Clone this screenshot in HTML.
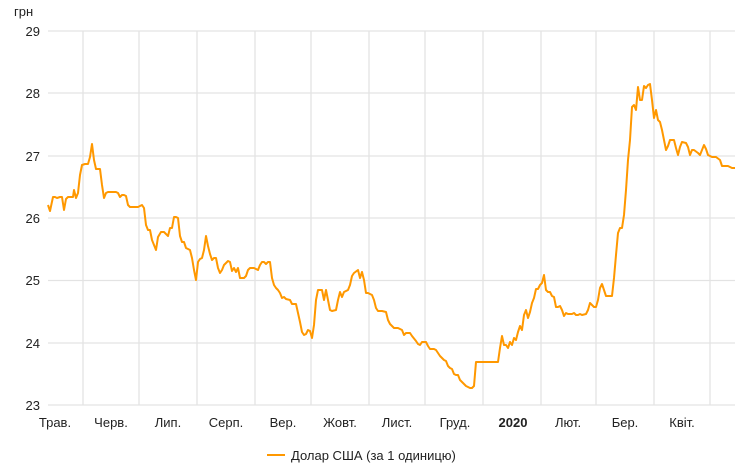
<!DOCTYPE html>
<html><head><meta charset="utf-8"><style>
body{margin:0;background:#fff;}
svg{display:block;font-family:"Liberation Sans",sans-serif;}
</style></head><body>
<svg width="740" height="467" viewBox="0 0 740 467">
<g stroke="#e3e3e3" stroke-width="1.3">
<line x1="48" y1="31" x2="735" y2="31"/>
<line x1="48" y1="93" x2="735" y2="93"/>
<line x1="48" y1="156" x2="735" y2="156"/>
<line x1="48" y1="218" x2="735" y2="218"/>
<line x1="48" y1="280.5" x2="735" y2="280.5"/>
<line x1="48" y1="343" x2="735" y2="343"/>
<line x1="48" y1="405" x2="735" y2="405"/>
<line x1="83" y1="31" x2="83" y2="405"/>
<line x1="139" y1="31" x2="139" y2="405"/>
<line x1="197" y1="31" x2="197" y2="405"/>
<line x1="255" y1="31" x2="255" y2="405"/>
<line x1="311" y1="31" x2="311" y2="405"/>
<line x1="369" y1="31" x2="369" y2="405"/>
<line x1="425" y1="31" x2="425" y2="405"/>
<line x1="483" y1="31" x2="483" y2="405"/>
<line x1="541" y1="31" x2="541" y2="405"/>
<line x1="596" y1="31" x2="596" y2="405"/>
<line x1="654" y1="31" x2="654" y2="405"/>
<line x1="710" y1="31" x2="710" y2="405"/>
</g>
<g fill="#222" font-size="13">
<text x="14" y="16">грн</text>
<g text-anchor="end">
<text x="40" y="36">29</text><text x="40" y="98">28</text><text x="40" y="161">27</text>
<text x="40" y="223">26</text><text x="40" y="285">25</text><text x="40" y="348">24</text><text x="40" y="410">23</text>
</g>
<g text-anchor="middle">
<text x="55" y="427">Трав.</text><text x="111" y="427">Черв.</text><text x="168" y="427">Лип.</text>
<text x="226" y="427">Серп.</text><text x="283" y="427">Вер.</text><text x="340" y="427">Жовт.</text>
<text x="397" y="427">Лист.</text><text x="455" y="427">Груд.</text><text x="513" y="427" font-weight="bold">2020</text>
<text x="568" y="427">Лют.</text><text x="625" y="427">Бер.</text><text x="682" y="427">Квіт.</text>
</g>
<text x="291" y="460">Долар США (за 1 одиницю)</text>
</g>
<line x1="267" y1="455" x2="285" y2="455" stroke="#ff9800" stroke-width="2"/>
<polyline fill="none" stroke="#ff9800" stroke-width="2" stroke-linejoin="round" points="48,205 50,211 53,197 55,197 57,198 60,197 62,197 64,210 66,199 68,197 70,197 73,197 74,190 76,198 78,193 80,175 82,165 85,164 88,164 90,157 92,144 94,160 96,169 98,169 100,169 102,185 104,198 106,193 108,192 112,192 116,192 118,193 120,197 122,195 124,195 126,196 128,205 130,207 134,207 138,207 142,205 144,208 146,225 148,230 150,230 152,240 156,250 158,237 161,232 164,232 166,234 168,236 170,228 172,228 174,217 176,217 178,218 180,236 182,242 184,242 186,248 190,250 192,258 194,270 196,280 198,262 200,259 202,258 204,250 206,236 208,246 210,254 212,260 214,258 216,258 218,268 220,273 222,270 224,265 228,261 230,262 232,271 234,268 236,272 238,268 240,278 244,278 246,276 248,270 250,268 254,268 258,270 260,265 262,262 264,262 266,264 268,262 270,262 272,278 274,285 276,288 278,290 280,293 282,298 284,297 286,299 290,300 292,304 296,304 298,313 300,322 302,332 304,335 306,334 308,330 310,331 312,338 314,325 316,300 318,290 322,290 324,300 326,290 328,300 330,310 332,311 336,310 338,300 340,292 342,297 344,292 348,290 350,285 352,276 354,273 358,270 360,278 362,272 364,280 366,293 368,293 372,295 374,300 376,308 378,311 382,311 386,312 388,320 390,324 392,326 394,328 398,328 402,330 404,335 406,333 410,333 412,336 416,341 418,344 420,345 422,342 426,342 428,346 430,349 434,349 436,350 440,356 442,358 444,360 446,361 448,366 450,368 452,369 454,374 456,375 458,375 460,380 462,382 464,384 466,386 470,388 472,388 474,386 476,362 486,362 496,362 498,362 500,348 502,336 504,345 506,345 508,348 510,342 512,345 514,338 516,340 518,332 520,326 522,330 524,315 526,310 528,318 530,312 532,303 534,298 536,289 538,289 540,285 542,283 544,275 546,290 548,292 550,292 552,296 554,297 556,307 558,307 560,306 562,310 564,316 566,313 568,314 572,314 574,313 576,315 578,315 580,314 582,315 586,314 588,310 590,303 592,305 594,307 596,307 598,300 600,288 602,284 604,290 606,296 610,296 612,296 614,278 616,255 618,233 620,228 622,228 624,215 626,190 628,160 630,140 632,107 634,105 636,110 638,87 640,100 642,100 644,86 646,88 648,85 650,84 652,100 654,118 656,110 658,120 660,122 662,130 664,140 666,150 668,146 670,140 674,140 676,148 678,155 680,147 682,142 686,143 688,147 690,155 692,150 694,150 698,153 700,155 702,150 704,145 706,149 708,155 712,157 716,157 720,160 722,166 728,166 732,168 735,168"/>
</svg>
</body></html>
